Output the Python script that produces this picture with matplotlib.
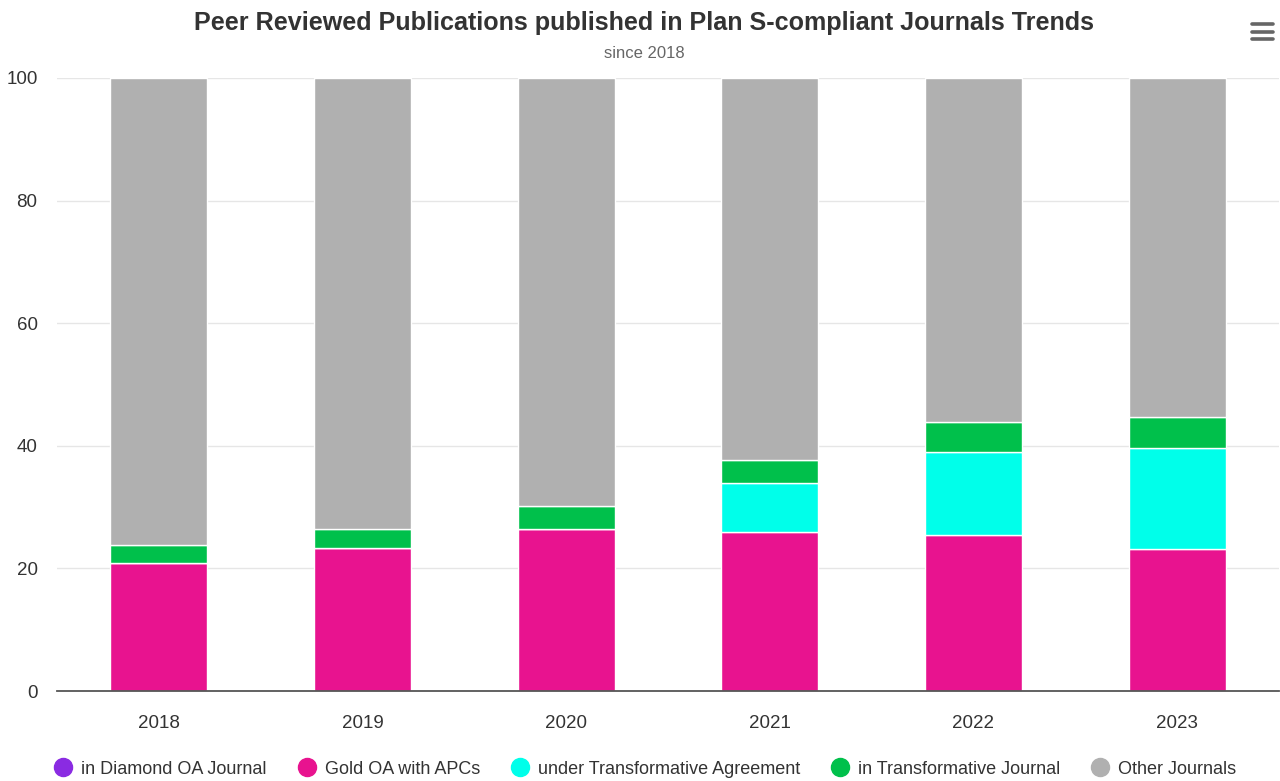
import numpy as np
import matplotlib
matplotlib.use("Agg")
import matplotlib.pyplot as plt
from matplotlib.lines import Line2D

plt.rcParams["font.family"] = ["Liberation Sans", "DejaVu Sans"]

# values (percent of publications)
years = ["2018", "2019", "2020", "2021", "2022", "2023"]
diamond = [0.0, 0.0, 0.0, 0.0, 0.0, 0.0]
gold_apc = [20.9, 23.4, 26.4, 26.0, 25.5, 23.2]
trans_agreement = [0.0, 0.0, 0.0, 7.9, 13.5, 16.5]
trans_journal = [3.0, 3.0, 3.7, 3.8, 4.8, 5.0]
other = [100 - a - b - c - d for a, b, c, d in
         zip(diamond, gold_apc, trans_agreement, trans_journal)]

series = [
    ("in Diamond OA Journal", diamond, "#8a2be2"),
    ("Gold OA with APCs", gold_apc, "#e8138f"),
    ("under Transformative Agreement", trans_agreement, "#00ffea"),
    ("in Transformative Journal", trans_journal, "#00c04b"),
    ("Other Journals", other, "#b0b0b0"),
]

fig = plt.figure(figsize=(12.8, 7.81), dpi=100)
ax = fig.add_axes([0.0445, 0.1152, 0.9547, 0.785])

x = np.arange(len(years))
bottom = np.zeros(len(years))
for name, vals, color in series:
    vals = np.array(vals)
    ax.bar(x, vals, bottom=bottom, width=0.476, color=color,
           edgecolor="white", linewidth=1, zorder=3)
    bottom += vals

ax.set_xlim(-0.5, len(years) - 0.5)
ax.set_ylim(0, 100)
ax.set_yticks([0, 20, 40, 60, 80, 100])
ax.set_xticks(x)
ax.set_xticklabels(years)
ax.tick_params(axis="both", length=0, labelsize=13.5, colors="#333333")
ax.tick_params(axis="x", pad=17)
ax.tick_params(axis="y", pad=14)
ax.grid(axis="y", color="#e6e6e6", linewidth=1, zorder=0)
for side in ["top", "right", "left"]:
    ax.spines[side].set_visible(False)
ax.spines["bottom"].set_color("#555555")
ax.spines["bottom"].set_linewidth(1.3)
ax.spines["bottom"].set_zorder(4)

fig.text(0.503, 0.971, "Peer Reviewed Publications published in Plan S-compliant Journals Trends",
         ha="center", va="center", fontsize=18.1, fontweight="bold", color="#333333")
fig.text(0.503, 0.932, "since 2018", ha="center", va="center",
         fontsize=12, color="#666666")

# hamburger menu icon
for yy in [0.969, 0.959, 0.950]:
    fig.add_artist(Line2D([0.9785, 0.9945], [yy, yy], color="#666666",
                          linewidth=2.6, solid_capstyle="round"))

handles = [Line2D([], [], marker="o", linestyle="", markersize=13,
                  markerfacecolor=c, markeredgecolor=c) for _, _, c in series]
fig.legend(handles, [s[0] for s in series], loc="center",
           bbox_to_anchor=(0.504, 0.015), ncol=5, frameon=False,
           fontsize=13, handletextpad=0.5, columnspacing=1.7,
           handlelength=1.0, labelcolor="#333333")

fig.savefig("out.png", dpi=100)
